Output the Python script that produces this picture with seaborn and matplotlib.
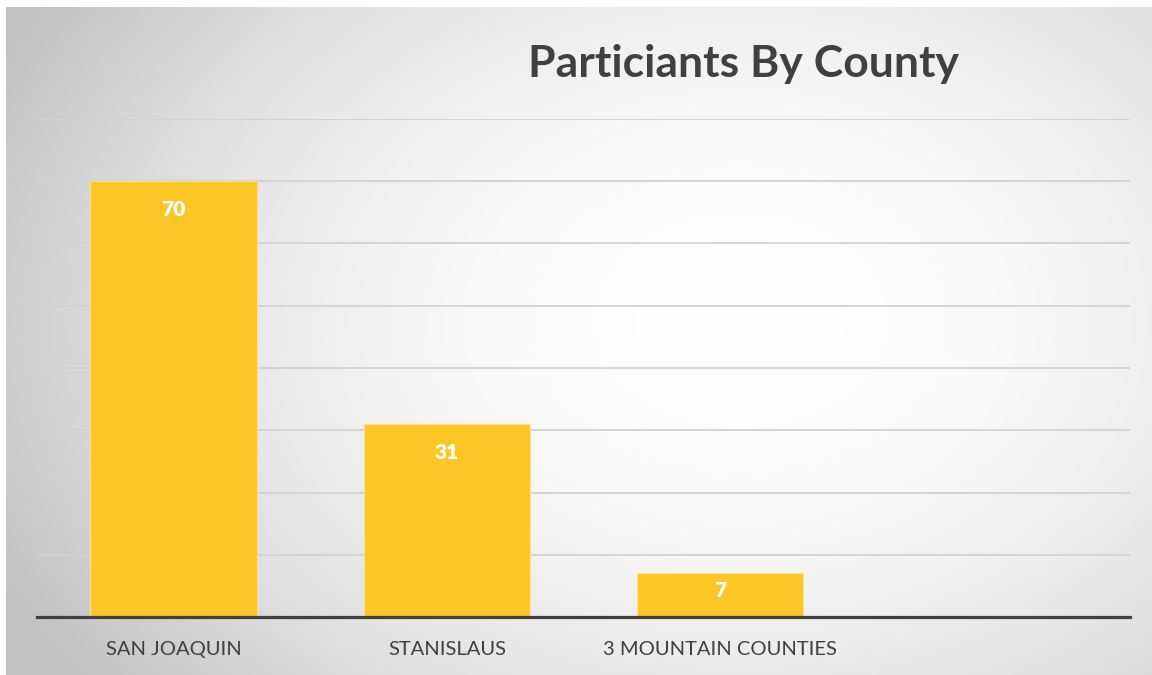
import numpy as np
import pandas as pd
import matplotlib
matplotlib.use("Agg")
import matplotlib.pyplot as plt
import seaborn as sns

categories = ["SAN JOAQUIN", "STANISLAUS", "3 MOUNTAIN COUNTIES"]
values = [70, 31, 7]
title = "Particiants By County"
yticks = [0, 10, 20, 30, 40, 50, 60, 70, 80]

sns.set_theme(style="white")
plt.rcParams['font.family'] = ['Lato', 'DejaVu Sans']

W, H = 1152, 675
fig = plt.figure(figsize=(W / 100, H / 100), dpi=100, facecolor="white")

# background gradient panel
bx0, by0 = 6, 7
bg = fig.add_axes([bx0 / W, 0, 1 - bx0 / W, 1 - by0 / H])
bg.set_axis_off()
gw, gh = W - bx0, H - by0
xx, yy = np.meshgrid(np.arange(gw), np.arange(gh))
cx, cy = 740 - bx0, 320 - by0
d = np.sqrt(((xx - cx) / 820.0) ** 2 + ((yy - cy) / 600.0) ** 2)
d = np.clip(d, 0, 1)
val = 1.0 - (1.0 - 0.76) * d ** 2.0
img = np.dstack([val, val, val])
bg.imshow(img, aspect="auto", extent=[0, 1, 0, 1], origin="upper")
bg.set_xlim(0, 1)
bg.set_ylim(0, 1)

# main axes
ax = fig.add_axes([37 / W, 1 - 617 / H, (1130 - 37) / W, (617 - 119) / H])
ax.set_facecolor("none")
df = pd.DataFrame({"county": categories, "value": values})
sns.barplot(data=df, x="county", y="value", order=categories, color="#FCC626",
            saturation=1, width=0.61, edgecolor="#FCE08C", linewidth=0.8, ax=ax, zorder=3)
ax.set_xlim(-0.5, 3.5)
ax.set_ylim(0, 80)
ax.set_yticks(yticks)
ax.yaxis.grid(True, color="#d2d2d2", linewidth=1.3, zorder=0)
ax.set_axisbelow(True)
ax.tick_params(axis="y", left=False, labelleft=False)
ax.tick_params(axis="x", bottom=False, labelsize=14.5, labelcolor="#404040", pad=11)
ax.set_xlabel("")
ax.set_ylabel("")
for s in ["top", "right", "left"]:
    ax.spines[s].set_visible(False)
ax.spines["bottom"].set_color("#404040")
ax.spines["bottom"].set_linewidth(2.3)
ax.spines["bottom"].set_zorder(5)

px_per_unit = (617 - 119) / 80.0
for i, v in enumerate(values):
    bar_px = v * px_per_unit
    off_px = min(28, 0.4 * bar_px)
    ax.annotate(str(v), xy=(i, v), xytext=(0, -off_px * 72 / 100), textcoords="offset points",
                ha="center", va="center", color="white", fontsize=15, fontweight="heavy", zorder=6)

fig.text(744 / W, 1 - 64 / H, title, ha="center", va="center", fontsize=32,
         fontweight="bold", color="#404040")

fig.savefig("out.png", dpi=100, facecolor="white")
